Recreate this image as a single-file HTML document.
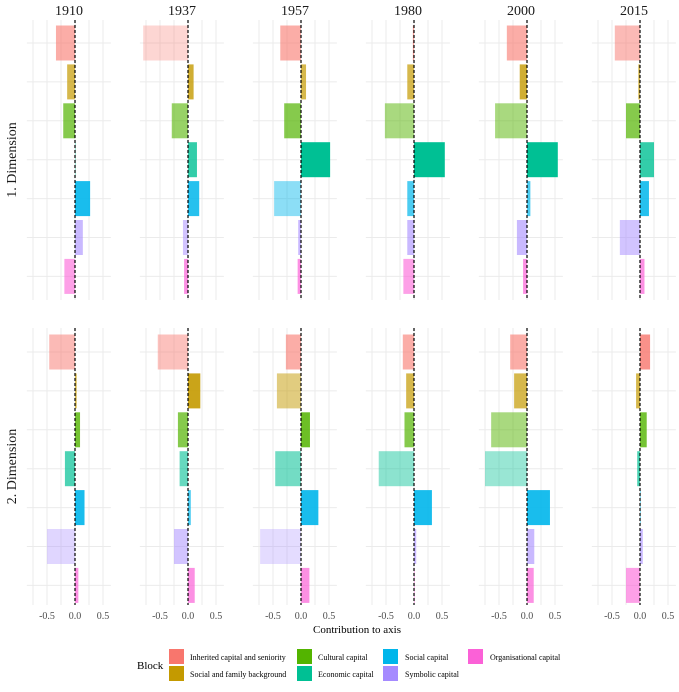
<!DOCTYPE html>
<html><head><meta charset="utf-8"><style>
body{margin:0;background:#fff}
svg text{font-family:"Liberation Serif",serif}
</style></head><body>
<svg id="chart" width="679" height="687" xmlns="http://www.w3.org/2000/svg"></svg>
<script>
const years=["1910","1937","1957","1980","2000","2015"];
const blocks=["Inherited capital and seniority","Social and family background","Cultural capital","Economic capital","Social capital","Symbolic capital","Organisational capital"];
const colors=["#F8766D","#C49A00","#53B400","#00C094","#00B6EB","#A58AFF","#FB61D7"];
const dim1Values=[
[-0.34,-0.14,-0.21,0.005,0.27,0.14,-0.19],
[-0.8,0.1,-0.29,0.16,0.2,-0.09,-0.07],
[-0.37,0.09,-0.3,0.52,-0.48,-0.05,-0.06],
[-0.02,-0.12,-0.52,0.55,-0.12,-0.12,-0.19],
[-0.36,-0.13,-0.57,0.55,0.06,-0.18,-0.07],
[-0.45,-0.03,-0.25,0.25,0.16,-0.36,0.08]];
const dim1Alpha=[
[0.6,0.7,0.7,0.6,0.9,0.6,0.6],
[0.3,0.8,0.6,0.8,0.85,0.5,0.7],
[0.6,0.7,0.7,1,0.45,0.6,0.7],
[0.7,0.7,0.5,1,0.7,0.6,0.6],
[0.6,0.8,0.5,1,0.7,0.6,0.7],
[0.5,0.7,0.7,0.8,0.85,0.5,0.7]];
const dim2Values=[
[-0.46,0.03,0.09,-0.18,0.17,-0.5,0.06],
[-0.54,0.22,-0.18,-0.15,0.05,-0.25,0.12],
[-0.27,-0.43,0.16,-0.46,0.31,-0.73,0.15],
[-0.2,-0.14,-0.17,-0.63,0.32,0.04,0.01],
[-0.3,-0.23,-0.64,-0.75,0.41,0.13,0.12],
[0.18,-0.07,0.12,-0.05,0.0,0.05,-0.25]];
const dim2Alpha=[
[0.5,0.7,0.8,0.7,0.9,0.35,0.7],
[0.45,0.9,0.7,0.6,0.7,0.5,0.7],
[0.6,0.5,0.85,0.55,0.9,0.3,0.7],
[0.6,0.7,0.7,0.45,0.9,0.6,0.7],
[0.6,0.7,0.5,0.4,0.9,0.6,0.7],
[0.8,0.7,0.8,0.7,0.7,0.6,0.6]];
const xTicks=[-0.5,0,0.5];
const xTickLabels=["-0.5","0.0","0.5"];
const gridX=[-0.75,-0.5,-0.25,0,0.25,0.5];

const NS="http://www.w3.org/2000/svg";
const svg=document.getElementById('chart');
function el(t,a,p){const e=document.createElementNS(NS,t);for(const k in a)e.setAttribute(k,a[k]);(p||svg).appendChild(e);return e;}
const scale=56, xmin=-0.86, xmax=0.64;
const rows=[{top:20,bottom:300,c0:43,vals:dim1Values,al:dim1Alpha,label:"1. Dimension"},
            {top:328,bottom:605,c0:352,vals:dim2Values,al:dim2Alpha,label:"2. Dimension"}];
const step=38.9, barH=35;
years.forEach((y,i)=>{
  const z=75+113*i;
  const xs=v=>z+v*scale;
  const t=el('text',{x:z-6,y:15,'font-size':14,'text-anchor':'middle',fill:'#1a1a1a'});t.textContent=y;
  
  rows.forEach((r,ri)=>{
    const g=el('g',{});
    
    gridX.forEach(v=>el('line',{x1:xs(v),x2:xs(v),y1:r.top,y2:r.bottom,stroke:'#ebebeb','stroke-width':1},g));
    blocks.forEach((b,k)=>{const cy=r.c0+k*step;el('line',{x1:xs(xmin),x2:xs(xmax),y1:cy,y2:cy,stroke:'#ebebeb','stroke-width':1},g);});
    blocks.forEach((b,k)=>{
      const v=r.vals[i][k], cy=r.c0+k*step;
      const x0=Math.min(xs(0),xs(v)), w=Math.max(Math.abs(v*scale),0.6);
      const rc=el('rect',{x:x0,y:cy-barH/2,width:w,height:barH,fill:colors[k],'fill-opacity':r.al[i][k]},g);
      
      
    });
    el('line',{x1:xs(0),x2:xs(0),y1:r.top,y2:r.bottom,stroke:'#000','stroke-width':1.2,'stroke-dasharray':'3,2'},g);
  });
  xTicks.forEach((v,j)=>{const tx=el('text',{x:xs(v),y:619,'font-size':10,'text-anchor':'middle',fill:'#4d4d4d'});tx.textContent=xTickLabels[j];
    });
});
rows.forEach((r,ri)=>{const t=el('text',{x:0,y:0,'font-size':14,'text-anchor':'middle',fill:'#1a1a1a',transform:`translate(16,${(r.top+r.bottom)/2}) rotate(-90)`});t.textContent=r.label;
  });
const xt=el('text',{x:357,y:633,'font-size':11,'text-anchor':'middle',fill:'#000'});xt.textContent="Contribution to axis";

const lg=el('g',{});
const bt=el('text',{x:137,y:669,'font-size':11,fill:'#000'},lg);bt.textContent="Block";
const colX=[169,297,383,468], textX=[190,318,405,490];
blocks.forEach((b,k)=>{
  const c=Math.floor(k/2), rr=k%2, yy=649+rr*17;
  const sw=el('rect',{x:colX[c],y:yy,width:15,height:15,fill:colors[k]},lg);
  
  const tx=el('text',{x:textX[c],y:yy+11,'font-size':8,fill:'#000'},lg);tx.textContent=b;
  
});
</script>
</body></html>
